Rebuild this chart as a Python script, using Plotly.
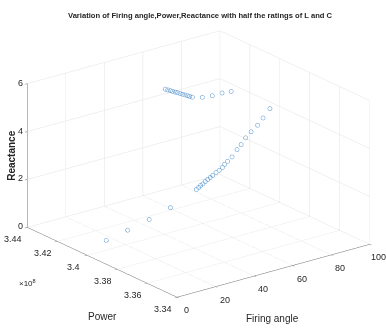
import plotly.graph_objects as go

# ---- data (firing angle [deg], power [W], reactance) ----
firing_angle = [15, 30, 45, 60,
                56.6, 57.8, 58.8, 60.0, 61.2, 62.5, 63.8, 65.1, 66.8, 68.5, 70.1,
                71.3, 72.8, 75.1, 77.7, 79.8, 82.2, 85.0, 88.4, 91.2, 94.8,
                47.9, 48.2, 48.5, 48.8, 49.1, 49.4, 49.7, 50.0, 50.3, 50.6, 50.8, 51.1,
                54.3, 58.7, 63.8, 67.9]
power = [3.4067e8, 3.4117e8, 3.4166e8, 3.4217e8,
         3.400e8, 3.400e8, 3.400e8, 3.400e8, 3.400e8, 3.400e8, 3.400e8, 3.400e8,
         3.400e8, 3.400e8, 3.400e8, 3.400e8, 3.400e8, 3.400e8, 3.400e8, 3.400e8,
         3.400e8, 3.400e8, 3.400e8, 3.400e8, 3.400e8,
         3.4096e8, 3.4083e8, 3.4070e8, 3.4058e8, 3.4045e8, 3.4033e8, 3.4020e8,
         3.4007e8, 3.3995e8, 3.3982e8, 3.3970e8, 3.3957e8,
         3.3931e8, 3.3921e8, 3.3921e8, 3.3913e8]
reactance = [0.10, 0.05, 0.02, 0.03,
             1.50, 1.56, 1.62, 1.66, 1.73, 1.79, 1.84, 1.90, 1.98, 2.04, 2.12,
             2.23, 2.32, 2.45, 2.70, 2.86, 3.09, 3.28, 3.48, 3.72, 4.03,
             5.6, 5.6, 5.6, 5.6, 5.6, 5.6, 5.6, 5.6, 5.6, 5.6, 5.6, 5.6,
             5.6, 5.6, 5.6, 5.6]

x_ticks = [0, 20, 40, 60, 80, 100]
y_ticks = [3.34e8, 3.36e8, 3.38e8, 3.40e8, 3.42e8, 3.44e8]
y_ticktext = ["3.34", "3.36", "3.38", "3.4", "3.42", "3.44"]
z_ticks = [0, 2, 4, 6]

title_text = "Variation of Firing angle,Power,Reactance with half the ratings of L and C"

FONT = "Liberation Sans Narrow, Arial Narrow, Liberation Sans, Arial"
TXT = "#262626"

fig = go.Figure()
fig.add_trace(go.Scatter3d(
    x=firing_angle, y=power, z=reactance, mode="markers",
    marker=dict(symbol="circle-open", size=2.6, color="#4a90d0"),
    showlegend=False, hoverinfo="skip"))

anns = []
for v in x_ticks:
    anns.append(dict(x=v, y=y_ticks[0], z=0, text=str(v), showarrow=False,
                     xshift=9, yshift=-13, font=dict(family=FONT, size=9, color=TXT)))
for v, t in zip(y_ticks, y_ticktext):
    anns.append(dict(x=0, y=v, z=0, text=t, showarrow=False,
                     xshift=-14, yshift=-12, font=dict(family=FONT, size=9, color=TXT)))
for v in z_ticks:
    anns.append(dict(x=0, y=y_ticks[-1], z=v, text=str(v), showarrow=False,
                     xanchor="right", xshift=-2, yshift=1, font=dict(family=FONT, size=9, color=TXT)))
anns.append(dict(x=50, y=y_ticks[0], z=0, text="Firing angle", showarrow=False,
                 xshift=-1, yshift=-48, font=dict(family=FONT, size=10, color=TXT)))
anns.append(dict(x=0, y=3.39e8, z=0, text="Power", showarrow=False,
                 xshift=0, yshift=-54, font=dict(family=FONT, size=10, color=TXT)))
anns.append(dict(x=0, y=y_ticks[-1], z=3, text="<b>Reactance</b>", showarrow=False, textangle=-90,
                 xshift=-16, yshift=0, font=dict(family=FONT, size=10, color=TXT)))

d = (-0.5686, -0.7411, 0.3581)
dist = 1.6
zoom = 1.5
axis_common = dict(showbackground=False, gridcolor="#e3e3e3", gridwidth=1,
                   showline=True, linecolor="#6e6e6e", linewidth=1,
                   ticks="outside", ticklen=3, tickcolor="#6e6e6e",
                   showticklabels=False, zeroline=False, showspikes=False,
                   title=dict(text=""))

fig.update_layout(
    width=386, height=328,
    margin=dict(l=0, r=0, t=0, b=0),
    paper_bgcolor="white",
    title=dict(text="<b>" + title_text + "</b>", x=200 / 386, xanchor="center",
               y=1 - 15 / 328, yanchor="middle", yref="container",
               font=dict(family=FONT, size=7.6, color=TXT)),
    scene=dict(
        domain=dict(x=[0.0285, 1.0], y=[0.0, 1.0]),
        bgcolor="white",
        xaxis=dict(range=[0, 100], tickvals=x_ticks, **axis_common),
        yaxis=dict(range=[3.34e8, 3.44e8], tickvals=y_ticks, **axis_common),
        zaxis=dict(range=[0, 6], tickvals=z_ticks, **axis_common),
        aspectmode="manual",
        aspectratio=dict(x=0.987 * zoom, y=1.0 * zoom, z=0.626 * zoom),
        camera=dict(eye=dict(x=d[0] * dist, y=d[1] * dist, z=d[2] * dist),
                    up=dict(x=0, y=0, z=1), center=dict(x=0, y=0, z=0),
                    projection=dict(type="orthographic")),
        annotations=anns,
    ),
)
fig.add_annotation(x=27 / 386, y=1 - 283 / 328, xref="paper", yref="paper",
                   xanchor="center", yanchor="middle",
                   text="×10<sup>8</sup>", showarrow=False,
                   font=dict(family=FONT, size=8, color=TXT))

fig.write_html("out.html", config={"displayModeBar": False})
